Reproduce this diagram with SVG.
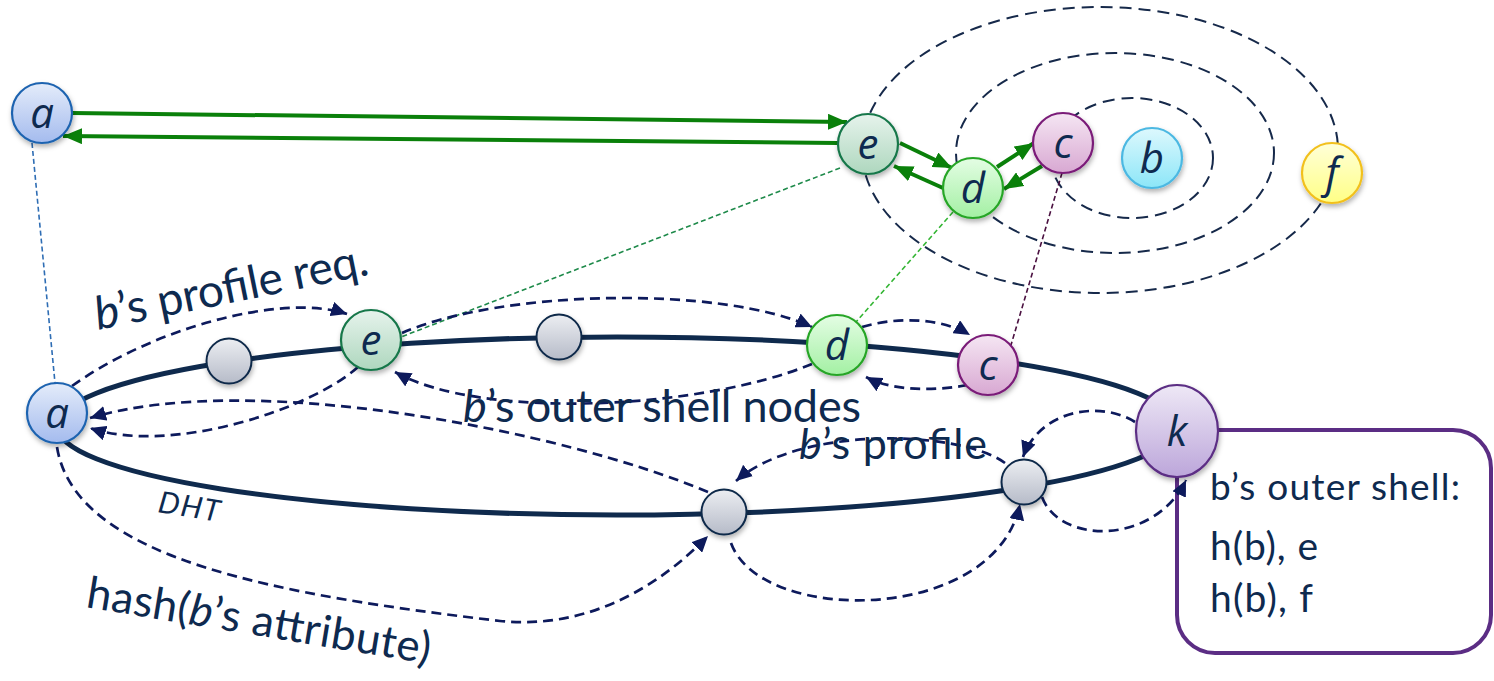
<svg xmlns="http://www.w3.org/2000/svg" width="1494" height="681" viewBox="0 0 1494 681">
<style>
.lbl{font-family:Lato,"Open Sans","Liberation Sans",sans-serif;fill:#0e2a4f}
.nl{font-family:"Open Sans","Liberation Sans",sans-serif;font-style:italic;font-size:42px;fill:#0e2a4f;text-anchor:middle}
.shell{fill:none;stroke:#16294a;stroke-width:2;stroke-dasharray:12 7}
.da{fill:none;stroke:#0d1a5c;stroke-width:2.7;stroke-dasharray:10 6;marker-end:url(#ah)}
.ga{fill:none;stroke:#0a800a;stroke-width:4;marker-end:url(#gh)}
.thin{fill:none;stroke-width:1.6;stroke-dasharray:5 3}
.gray{fill:url(#gGray);stroke:#10294a;stroke-width:2}
.it{font-style:italic}
</style>
<defs>
<filter id="sh" x="-30%" y="-30%" width="160%" height="170%"><feDropShadow dx="1" dy="3" stdDeviation="2.5" flood-color="#000" flood-opacity="0.3"/></filter>
<marker id="ah" markerUnits="userSpaceOnUse" markerWidth="17" markerHeight="15" refX="16" refY="7.5" orient="auto"><path d="M0,0 L16,7.5 L0,15 z" fill="#0d1a5c"/></marker>
<marker id="gh" markerUnits="userSpaceOnUse" markerWidth="20" markerHeight="16" refX="19" refY="8" orient="auto"><path d="M0,0 L19,8 L0,16 z" fill="#0a800a"/></marker>
<linearGradient id="gA" x1="0" y1="0" x2="0" y2="1"><stop offset="0" stop-color="#e4ecfa"/><stop offset="1" stop-color="#a4bbee"/></linearGradient>
<linearGradient id="gE" x1="0" y1="0" x2="0" y2="1"><stop offset="0" stop-color="#e6f3ec"/><stop offset="1" stop-color="#aed7be"/></linearGradient>
<linearGradient id="gD" x1="0" y1="0" x2="0" y2="1"><stop offset="0" stop-color="#e4fde4"/><stop offset="1" stop-color="#a3f0a3"/></linearGradient>
<linearGradient id="gC" x1="0" y1="0" x2="0" y2="1"><stop offset="0" stop-color="#f5e6f3"/><stop offset="1" stop-color="#d8a8d2"/></linearGradient>
<linearGradient id="gB" x1="0" y1="0" x2="0" y2="1"><stop offset="0" stop-color="#ddf8fd"/><stop offset="1" stop-color="#8ce6f8"/></linearGradient>
<linearGradient id="gF" x1="0" y1="0" x2="0" y2="1"><stop offset="0" stop-color="#ffffd8"/><stop offset="1" stop-color="#ffff86"/></linearGradient>
<linearGradient id="gK" x1="0" y1="0" x2="0" y2="1"><stop offset="0" stop-color="#eee8f6"/><stop offset="1" stop-color="#bca6da"/></linearGradient>
<linearGradient id="gGray" x1="0" y1="0" x2="0" y2="1"><stop offset="0" stop-color="#eceef2"/><stop offset="1" stop-color="#b6bbc8"/></linearGradient>
</defs>

<g id="shells">
<ellipse class="shell" cx="1100" cy="150" rx="238" ry="143"/>
<ellipse class="shell" cx="1115" cy="153" rx="159" ry="100"/>
<ellipse class="shell" cx="1132" cy="158" rx="81" ry="60"/>
</g>

<g id="dht-ring">
<ellipse cx="617" cy="426" rx="560" ry="89" fill="none" stroke="#0f2a4d" stroke-width="5"/>
</g>

<g id="box">
<rect x="1177" y="430" width="314" height="223" rx="38" fill="#fff" stroke="#5b2d84" stroke-width="4"/>
<text class="lbl" x="1210" y="500" font-size="37" textLength="250">b’s outer shell:</text>
<text class="lbl" x="1210" y="560" font-size="39" textLength="108">h(b), e</text>
<text class="lbl" x="1210" y="612" font-size="39" textLength="103">h(b), f</text>
</g>

<g id="connectors">
<line class="thin" stroke="#2e6db4" x1="32" y1="143" x2="55" y2="383"/>
<line class="thin" stroke="#1e8a4a" x1="840" y1="168" x2="401" y2="337"/>
<line class="thin" stroke="#33b533" x1="953" y1="212" x2="856" y2="322"/>
<line class="thin" stroke="#4a1040" x1="1062" y1="173" x2="1011" y2="345"/>
<line class="ga" x1="72" y1="113" x2="847" y2="122"/>
<line class="ga" x1="838" y1="143" x2="63" y2="136"/>
<line class="ga" x1="900" y1="143" x2="952" y2="168"/>
<line class="ga" x1="943" y1="188" x2="894" y2="166"/>
<line class="ga" x1="997" y1="167" x2="1034" y2="143"/>
<line class="ga" x1="1042" y1="166" x2="1004" y2="189"/>
<path class="da" d="M 72,386 C 150,330 280,292 347,314"/>
<path class="da" d="M 402,333 C 500,290 720,285 812,327"/>
<path class="da" d="M 862,327 C 895,317 940,317 970,335"/>
<path class="da" d="M 358,367 C 310,410 170,455 90,428"/>
<path class="da" d="M 708,492 C 560,430 250,370 90,418"/>
<path class="da" d="M 812,364 C 700,410 480,420 395,372"/>
<path class="da" d="M 968,385 C 930,392 890,390 866,377"/>
<path class="da" d="M 1005,463 C 960,430 800,425 736,481"/>
<path class="da" d="M 1135,422 C 1100,400 1040,410 1023,457"/>
<path class="da" d="M 1042,497 C 1060,545 1155,545 1186,480"/>
<path class="da" d="M 731,543 C 760,625 995,625 1020,504"/>
<path class="da" d="M 57,447 C 75,560 280,595 500,621 C 590,630 660,585 708,536"/>
</g>

<g id="labels">
<text class="lbl" font-size="46" transform="translate(98,330) rotate(-11.5)" textLength="278"><tspan class="it">b</tspan>’s profile req.</text>
<text class="lbl" font-size="45" x="463" y="422" textLength="398"><tspan class="it">b</tspan>’s outer shell nodes</text>
<text class="lbl" font-size="43" x="799" y="459" textLength="188"><tspan class="it">b</tspan>’s profile</text>
<text class="lbl it" font-size="30" transform="translate(157,512) rotate(9)" textLength="62">DHT</text>
<text class="lbl" font-size="44" transform="translate(85,607) rotate(9.4)" textLength="348">hash(<tspan class="it">b</tspan>’s attribute)</text>
</g>

<g id="node-a-top"><circle cx="42" cy="113" r="30" fill="url(#gA)" stroke="#1f64b0" stroke-width="2.2" filter="url(#sh)"/><text class="nl" x="42" y="128">a</text></g>
<g id="node-e-top"><circle cx="868" cy="144" r="30" fill="url(#gE)" stroke="#16774a" stroke-width="2.2" filter="url(#sh)"/><text class="nl" x="868" y="159">e</text></g>
<g id="node-d-top"><circle cx="973" cy="188" r="30" fill="url(#gD)" stroke="#26a526" stroke-width="2.2" filter="url(#sh)"/><text class="nl" x="973" y="203">d</text></g>
<g id="node-c-top"><circle cx="1063" cy="143" r="30" fill="url(#gC)" stroke="#7a1a78" stroke-width="2.2" filter="url(#sh)"/><text class="nl" x="1063" y="158">c</text></g>
<g id="node-b"><circle cx="1152" cy="158" r="30" fill="url(#gB)" stroke="#4cb8e2" stroke-width="2.2" filter="url(#sh)"/><text class="nl" x="1152" y="173">b</text></g>
<g id="node-f"><circle cx="1332" cy="173" r="30" fill="url(#gF)" stroke="#f2c01e" stroke-width="2.2" filter="url(#sh)"/><text class="nl" x="1332" y="188">f</text></g>

<g id="node-a"><circle cx="57" cy="413" r="30" fill="url(#gA)" stroke="#1f64b0" stroke-width="2.2" filter="url(#sh)"/><text class="nl" x="57" y="428">a</text></g>
<g id="node-g1"><circle class="gray" cx="229" cy="361" r="22.5" filter="url(#sh)"/></g>
<g id="node-e"><circle cx="371" cy="340" r="30" fill="url(#gE)" stroke="#16774a" stroke-width="2.2" filter="url(#sh)"/><text class="nl" x="371" y="355">e</text></g>
<g id="node-g2"><circle class="gray" cx="559" cy="337" r="22.5" filter="url(#sh)"/></g>
<g id="node-d"><circle cx="837" cy="345" r="30" fill="url(#gD)" stroke="#26a526" stroke-width="2.2" filter="url(#sh)"/><text class="nl" x="837" y="360">d</text></g>
<g id="node-c"><circle cx="988" cy="365" r="30" fill="url(#gC)" stroke="#7a1a78" stroke-width="2.2" filter="url(#sh)"/><text class="nl" x="988" y="380">c</text></g>
<g id="node-k"><ellipse cx="1177" cy="431" rx="41" ry="46" fill="url(#gK)" stroke="#5b2d84" stroke-width="2.2" filter="url(#sh)"/><text class="nl" x="1177" y="446">k</text></g>
<g id="node-g3"><circle class="gray" cx="1024" cy="482" r="22.5" filter="url(#sh)"/></g>
<g id="node-g4"><circle class="gray" cx="724" cy="512" r="22.5" filter="url(#sh)"/></g>
</svg>
